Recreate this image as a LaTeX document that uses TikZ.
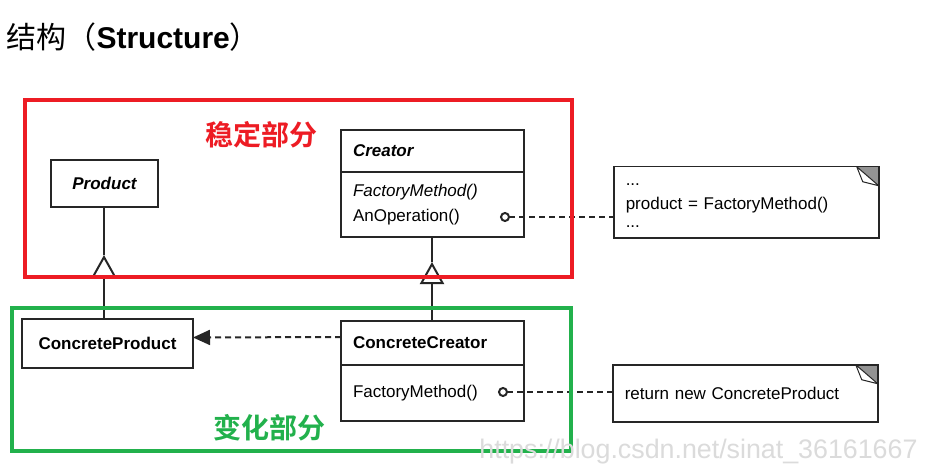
\documentclass[tikz,border=0pt]{standalone}
\usepackage{fontspec}
\setmainfont{Liberation Sans}
\newfontfamily\cjk{Noto Sans CJK SC}
\newfontfamily\cjkbf{Noto Sans CJK SC Bold}
\usetikzlibrary{positioning, arrows.meta}
\definecolor{markred}{HTML}{ED1C24}
\definecolor{markgreen}{HTML}{22B14C}
\tikzset{
  umltext/.style={font=\fontsize{17}{25}\selectfont},
  classbox/.style={draw=black!85, line width=1.6pt, umltext, outer sep=0pt},
  head/.style={classbox, text width=159pt, inner xsep=12pt, align=left, minimum height=42pt, anchor=north west},
  ops/.style={classbox, text width=159pt, inner xsep=12pt, align=left, anchor=north},
  note/.style={draw=black!85, line width=1.5pt, font=\fontsize{17}{24}\selectfont, anchor=north west,
    text width=241pt, inner xsep=12pt, align=left,
    path picture={
      \fill[gray!85] ([xshift=-22pt]path picture bounding box.north east) -- (path picture bounding box.north east)
        -- ([yshift=-19pt]path picture bounding box.north east) -- cycle;
      \filldraw[fill=white, line width=1pt] ([xshift=-22pt]path picture bounding box.north east)
        -- ([yshift=-19pt]path picture bounding box.north east)
        -- ([xshift=-16pt, yshift=-15pt]path picture bounding box.north east) -- cycle;
    }},
  link/.style={draw=black!85, line width=2pt},
  inherit/.style={link, -{Triangle[open, length=22pt, width=24pt]}},
  depend/.style={link, dash pattern=on 6pt off 4pt, -{Triangle[length=17pt, width=15pt]}},
  notelink/.style={link, dash pattern=on 6pt off 4pt, {Circle[open, length=10pt]}-},
  part/.style={line width=4pt},
  partlabel/.style={font=\fontsize{28}{32}\selectfont\cjkbf}
}
\begin{document}
\begin{tikzpicture}[x=1pt, y=-1pt]
  \useasboundingbox[fill=white] (0,0) rectangle (927,476);

  \node[anchor=west, font=\fontsize{30}{36}\selectfont] (title) at (3,37) {{\cjk 结构（}\textbf{Structure}{\cjk ）}};

  \node[classbox, minimum width=107pt, minimum height=47pt] (product) at (104.5,183.5) {\bfseries\itshape Product};
  \node[classbox, minimum width=171pt, minimum height=49pt] (cproduct) at (107.5,343.5) {\bfseries ConcreteProduct};

  \node[head] (creator) at (341,130) {\bfseries\itshape Creator};
  \node[ops, minimum height=65pt, below=0pt of creator] (creatorops) {{\itshape FactoryMethod()}\\AnOperation()};

  \node[head, minimum height=44pt] (ccreator) at (341,321) {\bfseries ConcreteCreator};
  \node[ops, minimum height=56pt, below=0pt of ccreator] (ccreatorops) {FactoryMethod()};

  \node[note, minimum height=71pt] (note1) at (613,166) {\rule{0pt}{8pt}...\\product = FactoryMethod()\\[-6pt]...};
  \node[note, minimum height=57pt] (note2) at (612,364) {return new ConcreteProduct};

  \coordinate (gen1) at (104,255);
  \coordinate (gen2) at (432,262);
  \coordinate (op1) at (500,217);
  \coordinate (op2) at (498,392);

  \draw[link] (gen1 |- product.south) -- (gen1);
  \draw[inherit] (gen1 |- cproduct.north) -- (gen1);
  \draw[link] (gen2 |- creatorops.south) -- (gen2);
  \draw[inherit] (gen2 |- ccreator.north) -- (gen2);

  \draw[depend] ([yshift=6pt]ccreator.west) -- ([yshift=6pt]cproduct.east);
  \draw[notelink] (op1) -- (op1 -| note1.west);
  \draw[notelink] (op2) -- (op2 -| note2.west);

  \draw[part, markred] (25,100) rectangle (572,277);
  \draw[part, markgreen] (12,308) rectangle (571,451);
  \node[partlabel, text=markred] (stable) at (261,135) {稳定部分};
  \node[partlabel, text=markgreen] (variable) at (269,428) {变化部分};

  \node[anchor=east, text=gray!28, font=\fontsize{26.8}{30}\selectfont] (watermark) at (921,452) {https://blog.csdn.net/sinat\_36161667};
\end{tikzpicture}
\end{document}
